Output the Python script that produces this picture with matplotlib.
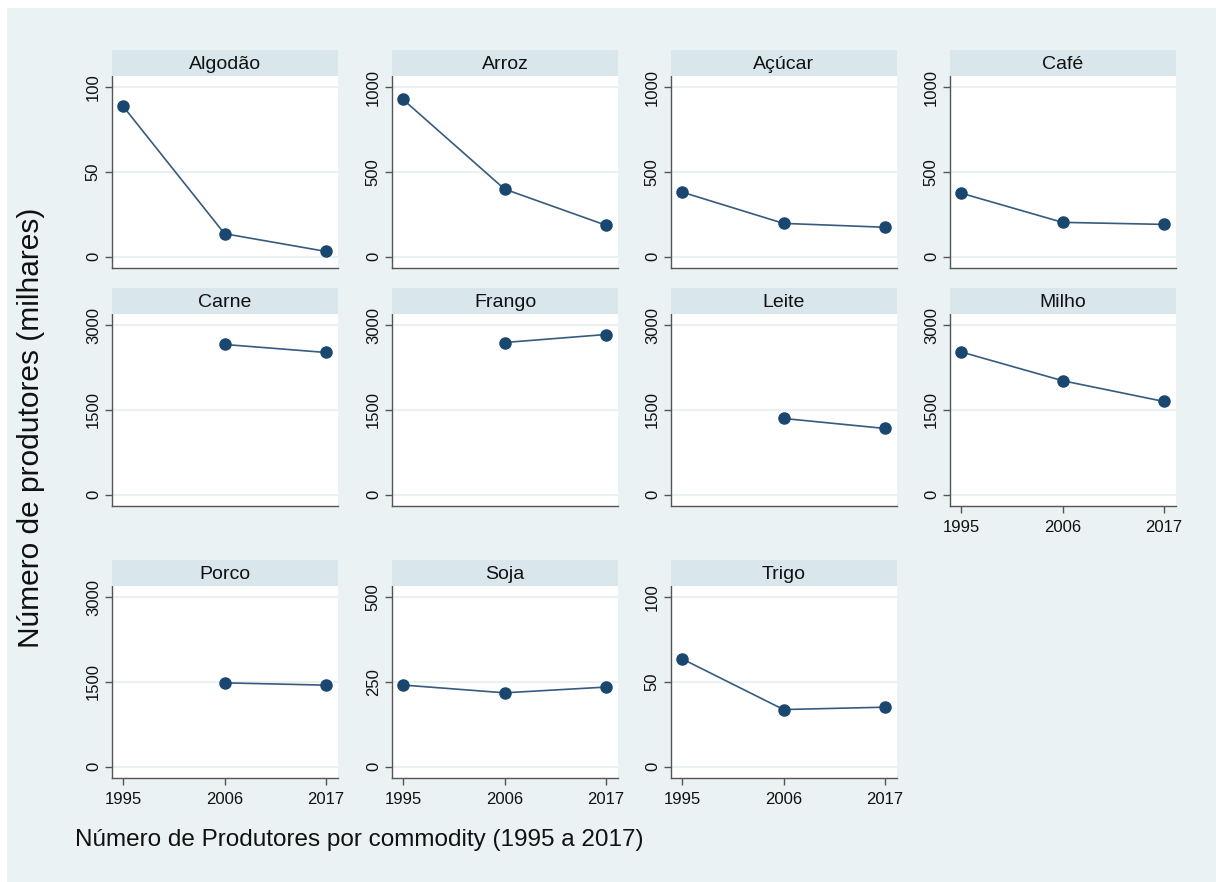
import numpy as np
import matplotlib
matplotlib.use("Agg")
import matplotlib.pyplot as plt
from matplotlib.patches import Rectangle

plt.rcParams['font.family'] = ['Liberation Sans', 'DejaVu Sans']

# ---- data: number of producers (thousands) per commodity ----
years = [1995, 2006, 2017]
nan = np.nan
commodities = ["Algodão", "Arroz", "Açúcar", "Café", "Carne", "Frango",
               "Leite", "Milho", "Porco", "Soja", "Trigo"]
algodao = [88.9, 13.5, 3.0]
arroz = [929, 399, 185]
acucar = [381, 196, 173]
cafe = [375, 202, 190]
carne = [nan, 2663, 2521]
frango = [nan, 2698, 2840]
leite = [nan, 1350, 1172]
milho = [2531, 2020, 1651]
porco = [nan, 1485, 1444]
soja = [241, 218, 235]
trigo = [63.7, 33.7, 35.1]
series = [algodao, arroz, acucar, cafe, carne, frango, leite, milho,
          porco, soja, trigo]
# y-axis ticks for each panel
yticks = [[0, 50, 100], [0, 500, 1000], [0, 500, 1000], [0, 500, 1000],
          [0, 1500, 3000], [0, 1500, 3000], [0, 1500, 3000], [0, 1500, 3000],
          [0, 1500, 3000], [0, 250, 500], [0, 50, 100]]
xlabels = ["1995", "2006", "2017"]

# ---- styling ----
BG = "#eaf2f3"
STRIP = "#d9e6eb"
NAVY = "#1a476f"
LINE = "#365b7e"
AXC = "#555555"
GRID = "#eaf1f3"

W, H = 1216, 882
fig = plt.figure(figsize=(W / 100, H / 100), dpi=100, facecolor="white")
fig.patches.append(Rectangle((7 / W, 0), 1 - 7 / W, 1 - 8 / H,
                             transform=fig.transFigure, facecolor=BG,
                             edgecolor="none", zorder=-10))


def fx(px):
    return px / W


def fy(py):
    return 1 - py / H


col_left = [112, 392, 671, 950]
col_w = 226
strip_top = [50, 288, 560]
strip_h = 26
plot_h = 192

for i, (name, vals, yt) in enumerate(zip(commodities, series, yticks)):
    r, c = divmod(i, 4)
    left = col_left[c]
    top = strip_top[r] + strip_h
    ax = fig.add_axes([fx(left), fy(top + plot_h), fx(col_w), plot_h / H])
    ax.set_facecolor("white")
    ymax = yt[-1]
    ax.set_ylim(-0.068 * ymax, 1.068 * ymax)
    ax.set_xlim(1993.8, 2018.3)
    for t in yt:
        ax.axhline(t, color=GRID, lw=1.5, zorder=0)
    ax.plot(years, vals, color=LINE, lw=1.2, zorder=2)
    ax.plot(years, vals, linestyle="none", marker="o", markersize=8,
            markerfacecolor=NAVY, markeredgecolor=NAVY, zorder=3)
    ax.set_yticks(yt)
    ax.set_yticklabels([str(t) for t in yt], rotation=90, va="center")
    ax.tick_params(axis="y", direction="out", length=5, width=1, color=AXC,
                   labelsize=12, pad=3, labelcolor="#111111")
    for s in ["top", "right"]:
        ax.spines[s].set_visible(False)
    for s in ["left", "bottom"]:
        ax.spines[s].set_color(AXC)
        ax.spines[s].set_linewidth(1)
    show_x = (r == 2) or (r == 1 and c == 3)
    if show_x:
        ax.set_xticks(years)
        ax.set_xticklabels(xlabels)
        ax.tick_params(axis="x", direction="out", length=5, width=1,
                       color=AXC, labelsize=12, pad=5,
                       labelcolor="#111111")
    else:
        ax.set_xticks([])

    sax = fig.add_axes([fx(left), fy(top), fx(col_w), strip_h / H])
    sax.set_facecolor(STRIP)
    sax.set_xticks([])
    sax.set_yticks([])
    for s in sax.spines.values():
        s.set_visible(False)
    sax.text(0.5, 0.45, name, ha="center", va="center", fontsize=14,
             color="#111111", transform=sax.transAxes)

fig.text(fx(31), fy(428), "Número de produtores (milhares)", rotation=90,
         ha="center", va="center", fontsize=21.5, color="#111111")
fig.text(fx(75), fy(840), "Número de Produtores por commodity (1995 a 2017)",
         ha="left", va="center", fontsize=17.5, color="#111111")

fig.savefig("out.png", dpi=100, facecolor="white")
